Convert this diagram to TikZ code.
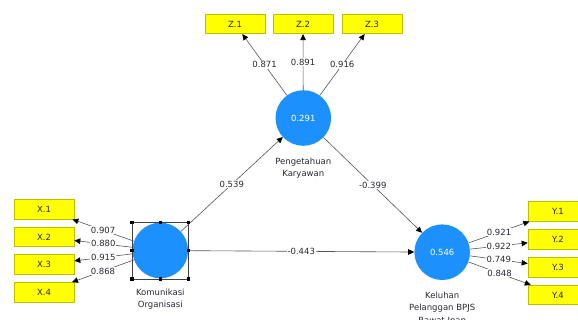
\documentclass[tikz,border=0pt]{standalone}
\usepackage{fontspec}
\usetikzlibrary{arrows.meta,calc}
\newfontfamily\dvs{DejaVu Sans}
\definecolor{lvblue}{RGB}{28,144,252}
\definecolor{indfill}{RGB}{255,255,0}
\definecolor{indborder}{RGB}{190,190,0}
\definecolor{pathgray}{RGB}{85,85,85}
\definecolor{txtdark}{RGB}{40,40,50}
\tikzset{
  fnt/.style={font=\dvs\fontsize{8.5}{12.5}\selectfont},
  ind/.style={fnt, draw=indborder, fill=indfill, line width=0.6pt, minimum width=60pt, minimum height=19.5pt, inner sep=0pt, text=txtdark},
  lv/.style={fnt, circle, fill=lvblue, minimum size=55.6pt, inner sep=0pt, text=white},
  pth/.style={draw=pathgray, line width=0.6pt, -{Triangle[length=6pt,width=5.5pt,color=black]}},
  wl/.style={fnt, fill=white, inner sep=0.8pt, text=txtdark},
  lvname/.style={fnt, align=center, anchor=north, inner sep=0pt, text=txtdark},
  handle/.style={fill=black, minimum size=3.2pt, inner sep=0pt},
}
\begin{document}
\begin{tikzpicture}[x=1pt,y=-1pt]
\useasboundingbox (0,0) rectangle (578,320);
\clip (0,0) rectangle (578,320);
\fill[white] (0,0) rectangle (578,320);
% latent variables
\node[lv] (p) at (303.3,118) {0.291};
\node[lv] (k) at (160.3,250.5) {};
\node[lv] (l) at (442.2,252.2) {0.546};
% indicators
\node[ind] (z1) at (235,24) {Z.1};
\node[ind] (z2) at (303,24) {Z.2};
\node[ind] (z3) at (372,24) {Z.3};
\node[ind] (x1) at (44,209.3) {X.1};
\node[ind] (x2) at (44,237) {X.2};
\node[ind] (x3) at (44,264.5) {X.3};
\node[ind] (x4) at (44,292.2) {X.4};
\node[ind] (y1) at (558,211.5) {Y.1};
\node[ind] (y2) at (558,239.5) {Y.2};
\node[ind] (y3) at (558,267.5) {Y.3};
\node[ind] (y4) at (558,295) {Y.4};
% names
\node[lvname] (pn) at ($(p.south)+(0,11.5)$) {Pengetahuan\\Karyawan};
\node[lvname] (kn) at ($(k.south)+(0,10)$) {Komunikasi\\Organisasi};
\node[lvname] (ln) at ($(l.south)+(0,11.5)$) {Keluhan\\Pelanggan BPJS\\Rawat Inap};
% outer loadings
\draw[pth] (p) -- node[wl]{0.871} (z1);
\draw[pth] (p) -- node[wl]{0.891} (z2);
\draw[pth] (p) -- node[wl]{0.916} (z3);
\draw[pth] (k) -- node[wl]{0.907} (x1);
\draw[pth] (k) -- node[wl]{0.880} (x2);
\draw[pth] (k) -- node[wl]{0.915} (x3);
\draw[pth] (k) -- node[wl]{0.868} (x4);
\draw[pth] (l) -- node[wl]{0.921} (y1);
\draw[pth] (l) -- node[wl]{0.922} (y2);
\draw[pth] (l) -- node[wl]{0.749} (y3);
\draw[pth] (l) -- node[wl]{0.848} (y4);
% inner paths
\draw[pth] (k) -- node[wl]{0.539} (p);
\draw[pth] (p) -- node[wl]{-0.399} (l);
\draw[pth] (k) -- node[wl]{-0.443} (l);
% selection frame
\coordinate (s1) at ($(k.center)+(-28.4,-28.2)$);
\coordinate (s2) at ($(k.center)+(28.1,28.5)$);
\draw[black!75, line width=0.6pt] (s1) rectangle (s2);
\foreach \a in {s1,s2}{}
\node[handle] at (s1) {};
\node[handle] at (s2) {};
\node[handle] at (s1 -| k.center) {};
\node[handle] at (s2 -| k.center) {};
\node[handle] at (s1 |- k.center) {};
\node[handle] at (s2 |- k.center) {};
\node[handle] at (s1 |- s2) {};
\node[handle] at (s2 |- s1) {};
\end{tikzpicture}
\end{document}
